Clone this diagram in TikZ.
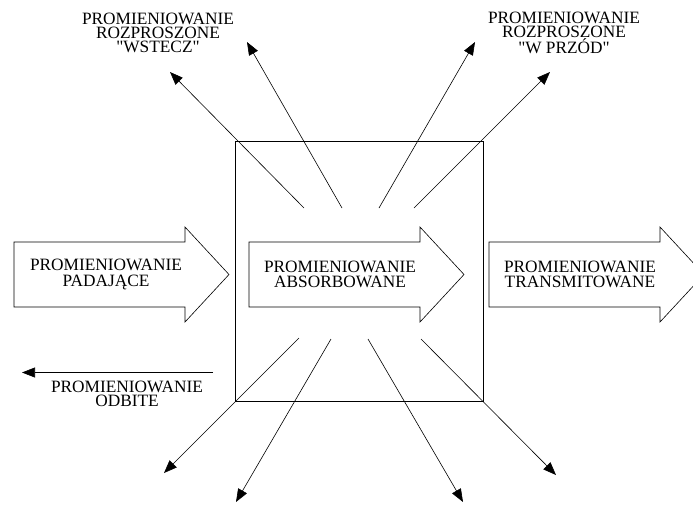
\documentclass[tikz,border=0pt]{standalone}
\usepackage{fontspec}
\setmainfont{Liberation Serif}
\usetikzlibrary{arrows.meta}
\begin{document}
\begin{tikzpicture}[x=1pt,y=-1pt,
	napis/.style={align=center,inner sep=0pt,font=\fontsize{17.3}{14}\selectfont},
	napisblok/.style={align=center,inner sep=0pt,font=\fontsize{17.3}{15.5}\selectfont},
	blok/.style={line width=0.6pt},
	promien/.style={-{Triangle[length=13pt,width=10pt]},line width=0.6pt}]
	\useasboundingbox (0,0) rectangle (693,504);
	\draw[line width=0.6pt] (235,141) rectangle (483,401);
	\foreach \x in {14,249,489}
		\draw[blok] (\x,242) -- ++(171,0) -- ++(0,-15) -- ++(44,47.5) -- ++(-44,47.5) -- ++(0,-15) -- ++(-171,0) -- cycle;
	\node[napisblok] (t1) at (106,274.5) {PROMIENIOWANIE\\PADAJĄCE};
	\node[napisblok] (t2) at (340,274.5) {PROMIENIOWANIE\\ABSORBOWANE};
	\node[napisblok] (t3) at (580,274.5) {PROMIENIOWANIE\\TRANSMITOWANE};
	\node[napis] (wstecz) at (158,32.5) {PROMIENIOWANIE\\ROZPROSZONE\\\textquotedbl WSTECZ\textquotedbl};
	\node[napis] (wprzod) at (564,32.5) {PROMIENIOWANIE\\ROZPROSZONE\\\textquotedbl W PRZÓD\textquotedbl};
	\node[napis] (odbite) at (127,393.5) {PROMIENIOWANIE\\ODBITE};
	\coordinate (o1) at (213,372.5);
	\coordinate (o2) at (22,372.5);
	\draw[promien] (o1) -- (o2);
	\coordinate (a1) at (304,208);
	\coordinate (a2) at (170,72);
	\coordinate (b1) at (342,208);
	\coordinate (b2) at (247,42);
	\coordinate (c1) at (379,208);
	\coordinate (c2) at (475,42);
	\coordinate (d1) at (414,208);
	\coordinate (d2) at (550,72);
	\coordinate (e1) at (299,338);
	\coordinate (e2) at (164,473);
	\coordinate (f1) at (331,339);
	\coordinate (f2) at (236,502);
	\coordinate (g1) at (368,339);
	\coordinate (g2) at (463,502);
	\coordinate (h1) at (421,339);
	\coordinate (h2) at (556,475);
	\draw[promien] (a1) -- (a2);
	\draw[promien] (b1) -- (b2);
	\draw[promien] (c1) -- (c2);
	\draw[promien] (d1) -- (d2);
	\draw[promien] (e1) -- (e2);
	\draw[promien] (f1) -- (f2);
	\draw[promien] (g1) -- (g2);
	\draw[promien] (h1) -- (h2);
\end{tikzpicture}
\end{document}
